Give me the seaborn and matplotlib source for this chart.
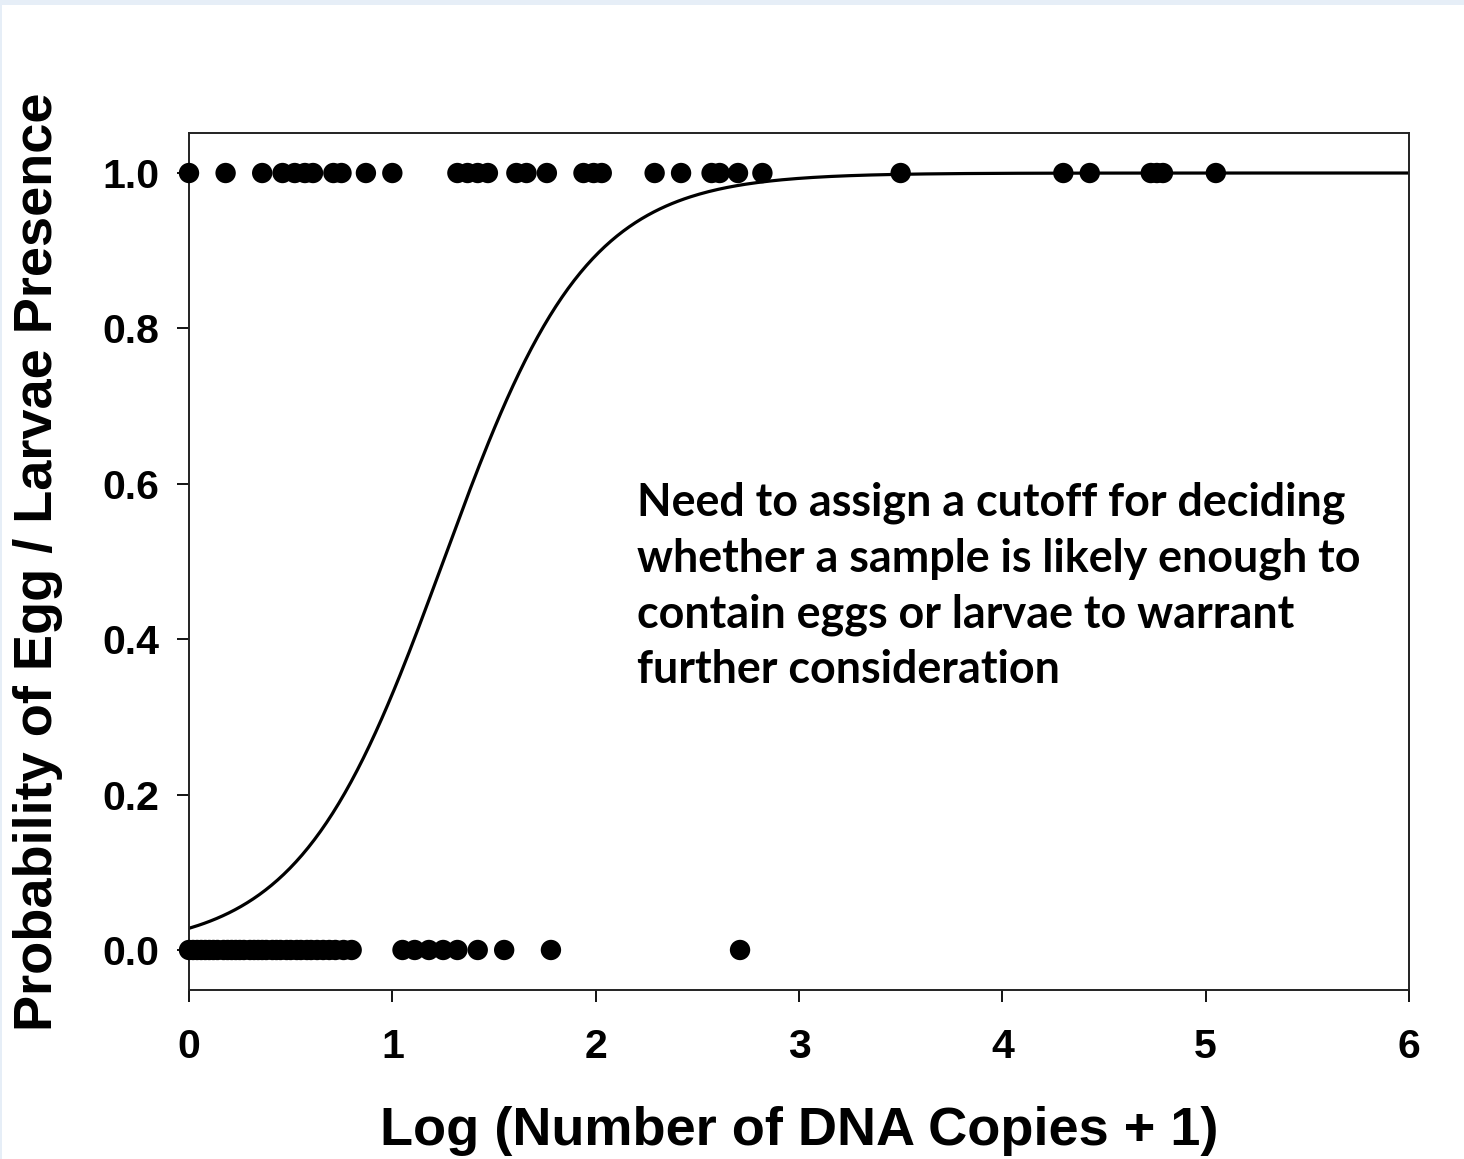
import numpy as np
import pandas as pd
import matplotlib
matplotlib.use("Agg")
import matplotlib.pyplot as plt
import seaborn as sns
from matplotlib.patches import Rectangle

# ---- data ----
present_x = [0.00, 0.18, 0.36, 0.46, 0.52, 0.57, 0.61, 0.71, 0.75, 0.87, 1.00,
             1.32, 1.37, 1.42, 1.47, 1.61, 1.66, 1.76, 1.94, 1.99, 2.03,
             2.29, 2.42, 2.57, 2.61, 2.70, 2.82, 3.50, 4.30, 4.43, 4.73,
             4.76, 4.79, 5.05]
absent_x = [0.00, 0.02, 0.04, 0.06, 0.08, 0.10, 0.12, 0.14, 0.17, 0.19, 0.21,
            0.23, 0.25, 0.27, 0.30, 0.32, 0.34, 0.36, 0.38, 0.41, 0.43, 0.45,
            0.48, 0.50, 0.53, 0.55, 0.58, 0.60, 0.63, 0.66, 0.69, 0.72, 0.76,
            0.80, 1.05, 1.11, 1.18, 1.25, 1.32, 1.42, 1.55, 1.78, 2.71]
# fitted logistic model coefficients
intercept = -3.55
slope = 2.84

x_ticks = [0, 1, 2, 3, 4, 5, 6]
y_ticks = [0.0, 0.2, 0.4, 0.6, 0.8, 1.0]
x_label = "Log (Number of DNA Copies + 1)"
y_label = "Probability of Egg / Larvae Presence"
note = ("Need to assign a cutoff for deciding\n"
        "whether a sample is likely enough to\n"
        "contain eggs or larvae to warrant\n"
        "further consideration")

points = pd.DataFrame({
    "x": present_x + absent_x,
    "y": [1.0] * len(present_x) + [0.0] * len(absent_x),
})
grid = np.linspace(0, 6, 400)
curve = pd.DataFrame({"x": grid, "p": 1.0 / (1.0 + np.exp(-(intercept + slope * grid)))})

sns.set_theme(style="white")
plt.rcParams["font.family"] = ["Liberation Sans", "DejaVu Sans"]
plt.rcParams["text.color"] = "black"
plt.rcParams["xtick.color"] = "black"
plt.rcParams["ytick.color"] = "black"

fig = plt.figure(figsize=(14.64, 11.59), dpi=100)
fig.patch.set_facecolor("white")
ax = fig.add_axes([189 / 1464, 1 - 990 / 1159, (1409 - 189) / 1464, (990 - 133) / 1159])

# light blue frame strips of the slide
fig.patches.append(Rectangle((0, 1 - 5 / 1159), 1, 5 / 1159, transform=fig.transFigure,
                             facecolor="#E6EEF7", edgecolor="none", zorder=0))
fig.patches.append(Rectangle((0, 0), 2 / 1464, 1, transform=fig.transFigure,
                             facecolor="#E6EEF7", edgecolor="none", zorder=0))

sns.lineplot(data=curve, x="x", y="p", ax=ax, color="black", linewidth=2.3, zorder=2)
sns.scatterplot(data=points, x="x", y="y", ax=ax, color="black", s=215,
                edgecolor="none", linewidth=0, zorder=3, clip_on=False)

ax.set_xlim(0, 6)
ax.set_ylim(-0.0515, 1.0515)
ax.set_xticks(x_ticks)
ax.set_yticks(y_ticks)
ax.set_xticklabels([str(t) for t in x_ticks])
ax.set_yticklabels([f"{t:.1f}" for t in y_ticks])
ax.tick_params(axis="both", which="major", direction="out", length=8.6, width=1.3,
               color="black", labelcolor="black", labelsize=29.5,
               bottom=True, left=True, top=False, right=False)
ax.tick_params(axis="y", pad=13)
ax.tick_params(axis="x", pad=19)
for lab in ax.get_xticklabels() + ax.get_yticklabels():
    lab.set_fontweight("bold")
for sp in ax.spines.values():
    sp.set_color("#222222")
    sp.set_linewidth(1.4)

ax.set_xlabel("")
ax.set_ylabel("")
fig.text(799 / 1464, 1 - 1131 / 1159, x_label, fontsize=39, fontweight="bold",
         ha="center", va="center", color="black")
fig.text(38 / 1464, 1 - 562 / 1159, y_label, fontsize=39, fontweight="bold",
         ha="center", va="center", rotation=90, color="black")

fig.text(637 / 1464, 1 - 481 / 1159, note, fontsize=32.3, fontweight="bold",
         family=["Lato", "DejaVu Sans"], ha="left", va="top", linespacing=1.4,
         color="black")

fig.savefig("out.png", dpi=100, facecolor="white")
